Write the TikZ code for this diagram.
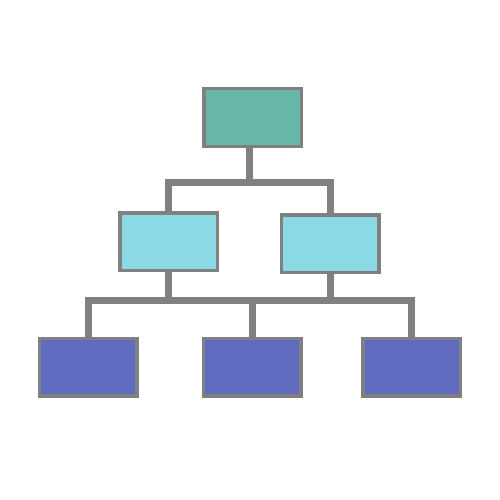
\documentclass[tikz,border=0pt]{standalone}
\begin{document}
\begin{tikzpicture}[x=1pt,y=-1pt,
  box/.style={draw=linegray,line width=3.5pt,rectangle,inner sep=0pt,minimum width=97.5pt,minimum height=57.5pt},
  conn/.style={draw=linegray,line width=7pt,line join=miter}]
\definecolor{linegray}{HTML}{808080}
\definecolor{topc}{HTML}{66B7A8}
\definecolor{midc}{HTML}{8AD9E4}
\definecolor{botc}{HTML}{616CC0}
\useasboundingbox (0,0) rectangle (500,500);
\node[box,fill=topc] (top) at (252.5,117.5) {};
\node[box,fill=midc] (ml) at (168.5,241.7) {};
\node[box,fill=midc] (mr) at (330,243.5) {};
\node[box,fill=botc] (bl) at (88,367) {};
\node[box,fill=botc] (bm) at (252.3,367) {};
\node[box,fill=botc] (br) at (411.5,367) {};
\coordinate (j1) at (249,182.5);
\coordinate (j2) at (252.3,300.5);
\draw[conn] (top.south -| j1) -- (j1);
\draw[conn] (ml.north) |- (j1) -| (mr.north);
\draw[conn] (ml.south) -- (ml.south |- j2);
\draw[conn] (mr.south) -- (mr.south |- j2);
\draw[conn] (bl.north) |- (j2) -| (br.north);
\draw[conn] (bm.north) -- (j2);
\end{tikzpicture}
\end{document}
